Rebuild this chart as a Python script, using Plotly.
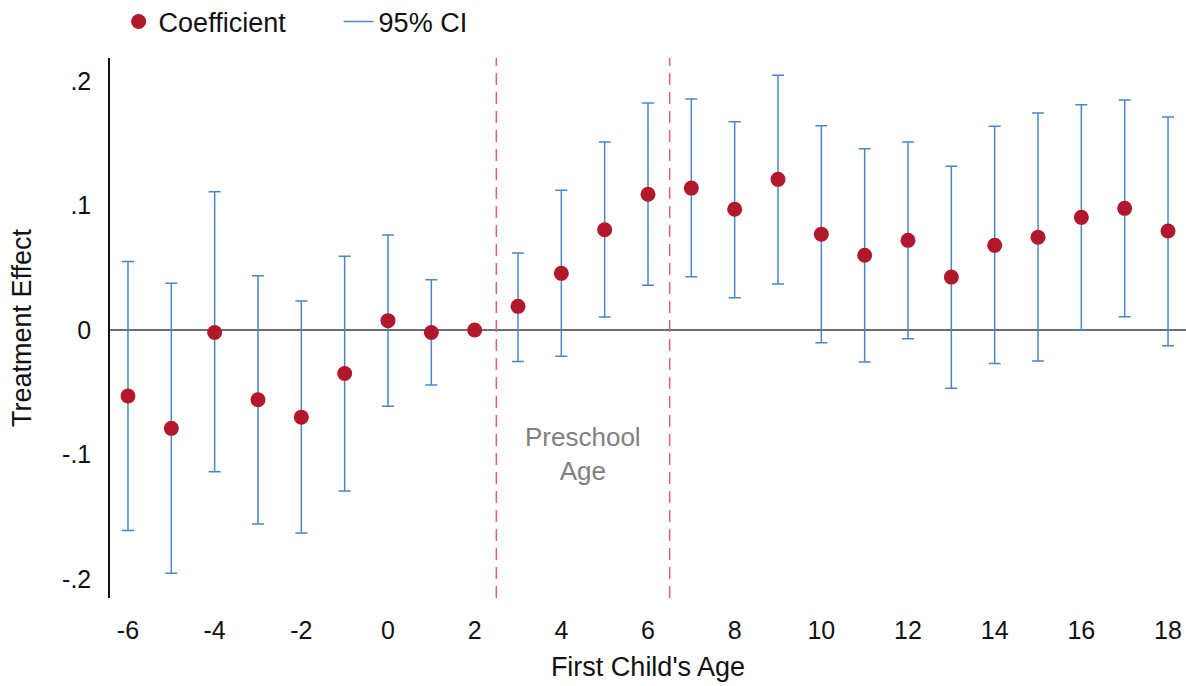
import plotly.graph_objects as go

ages = [-6, -5, -4, -3, -2, -1, 0, 1, 2, 3, 4, 5, 6, 7, 8, 9, 10, 11, 12, 13, 14, 15, 16, 17, 18]
coef = [-0.053, -0.079, -0.002, -0.056, -0.070, -0.035, 0.0075, -0.002, 0.0,
        0.019, 0.0455, 0.0805, 0.109, 0.114, 0.097, 0.121, 0.077, 0.060, 0.072,
        0.0425, 0.068, 0.0745, 0.0905, 0.0977, 0.0795]
ci_hi = [0.055, 0.0375, 0.111, 0.0436, 0.0233, 0.0592, 0.0763, 0.0404, 0.0,
         0.0618, 0.1122, 0.151, 0.1823, 0.1855, 0.1673, 0.2046, 0.1641, 0.1456, 0.151,
         0.1315, 0.1636, 0.1743, 0.181, 0.1847, 0.1711]
ci_lo = [-0.161, -0.1954, -0.1138, -0.1558, -0.163, -0.1293, -0.0613, -0.0442, 0.0,
         -0.0254, -0.0211, 0.0104, 0.0359, 0.0428, 0.026, 0.0369, -0.0102, -0.0257, -0.007,
         -0.0468, -0.027, -0.0249, 0.0, 0.0107, -0.0126]

y_tickvals = [-0.2, -0.1, 0, 0.1, 0.2]
y_ticktext = ["-.2", "-.1", "0", ".1", ".2"]
x_tickvals = list(range(-6, 19, 2))
x_ticktext = [str(v) for v in x_tickvals]
preschool_bounds = [2.5, 6.5]

RED = "#B2182B"
BLUE = "#4A87C6"
DASH = "#D9646F"
FONT = "Liberation Sans, Arial, sans-serif"

fig = go.Figure()

# CI (error bars) trace
fig.add_trace(go.Scatter(
    x=ages, y=coef, mode="markers",
    marker=dict(size=1, color="rgba(0,0,0,0)"),
    error_y=dict(type="data", symmetric=False,
                 array=[h - c for h, c in zip(ci_hi, coef)],
                 arrayminus=[c - l for c, l in zip(coef, ci_lo)],
                 color=BLUE, thickness=1.5, width=6),
    showlegend=False, hoverinfo="skip",
))

# Coefficient points
fig.add_trace(go.Scatter(
    x=ages, y=coef, mode="markers", name="Coefficient",
    marker=dict(size=15, color=RED),
))

# legend entry for CI
fig.add_trace(go.Scatter(
    x=[None], y=[None], mode="lines", name="95% CI",
    line=dict(color=BLUE, width=1.5),
))

# zero line
fig.add_hline(y=0, line=dict(color="#6E6E6E", width=2), layer="below")

for b in preschool_bounds:
    fig.add_vline(x=b, line=dict(color=DASH, width=1.5, dash="12px,7px"), layer="below")

fig.add_annotation(
    x=sum(preschool_bounds) / 2, y=-0.1, text="Preschool<br>Age",
    showarrow=False, xanchor="center", yanchor="middle",
    font=dict(family=FONT, size=26, color="#808080"),
)

fig.update_layout(
    width=1186, height=686,
    margin=dict(l=110, r=0, t=58, b=88, autoexpand=False),
    paper_bgcolor="white", plot_bgcolor="white",
    font=dict(family=FONT, size=24, color="#111111"),
    legend=dict(orientation="h", x=0.008, y=1.0667, xanchor="left", yanchor="middle",
                font=dict(family=FONT, size=27), itemwidth=30, entrywidth=175,
                bgcolor="rgba(0,0,0,0)"),
    xaxis=dict(range=[-6.415, 18.415], tickvals=x_tickvals, ticktext=x_ticktext,
               showgrid=False, zeroline=False, showline=False, ticks="",
               ticklabelstandoff=15, tickfont=dict(size=25),
               title=dict(text="First Child's Age", font=dict(size=27), standoff=14)),
    yaxis=dict(range=[-0.2153, 0.2185], tickvals=y_tickvals, ticktext=y_ticktext,
               showgrid=False, zeroline=False, showline=True, linecolor="#111111",
               linewidth=1.5, ticks="", ticklabelstandoff=12,
               tickfont=dict(size=25),
               title=dict(text="Treatment Effect", font=dict(size=27), standoff=23)),
)

fig.write_html("out.html")
